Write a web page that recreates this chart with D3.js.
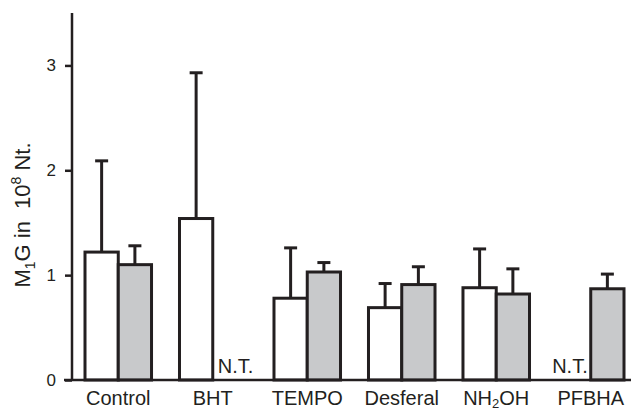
<!DOCTYPE html>
<html>
<head>
  <meta charset="utf-8">
  <title>M1G</title>
  <script src="https://d3js.org/d3.v7.min.js"></script>
  <style>
    body { margin: 0; background: #fff; }
    text { font-family: "Liberation Sans", Arial, sans-serif; fill: #231f20; }
  </style>
</head>
<body>
<svg id="chart" width="631" height="412"></svg>
<script>
// data
var categories = ["Control", "BHT", "TEMPO", "Desferal", "NH2OH", "PFBHA"];
var whiteMean = [1.22, 1.54, 0.78, 0.69, 0.88, null];
var whiteErr  = [0.87, 1.39, 0.48, 0.23, 0.37, null];
var grayMean  = [1.10, null, 1.03, 0.91, 0.82, 0.87];
var grayErr   = [0.18, null, 0.09, 0.17, 0.24, 0.14];
var yTicks = [0, 1, 2, 3];

var ink = "#231f20";
var svg = d3.select("#chart");

var x = d3.scaleBand()
  .domain(categories)
  .range([85, 624])
  .paddingInner(0.296)
  .paddingOuter(0);

var y = d3.scaleLinear().domain([0, 3.5]).range([380, 13]);

var bw = x.bandwidth() / 2;

var rows = [];
categories.forEach(function (c, i) {
  rows.push({ cat: c, slot: 0, v: whiteMean[i], e: whiteErr[i], fill: "#ffffff" });
  rows.push({ cat: c, slot: 1, v: grayMean[i], e: grayErr[i], fill: "#c8c9cb" });
});

// error bars first so the bar outline sits over the base
var withVal = rows.filter(function (d) { return d.v != null; });
var eb = svg.append("g");
withVal.forEach(function (d) {
  var cx = x(d.cat) + d.slot * bw + bw / 2;
  eb.append("line")
    .attr("x1", cx).attr("x2", cx)
    .attr("y1", y(d.v)).attr("y2", y(d.v + d.e))
    .attr("stroke", ink).attr("stroke-width", 3);
  eb.append("line")
    .attr("x1", cx - 6.5).attr("x2", cx + 6.5)
    .attr("y1", y(d.v + d.e)).attr("y2", y(d.v + d.e))
    .attr("stroke", ink).attr("stroke-width", 3);
});

svg.append("g").selectAll("rect")
  .data(withVal)
  .enter().append("rect")
  .attr("x", function (d) { return x(d.cat) + d.slot * bw; })
  .attr("y", function (d) { return y(d.v); })
  .attr("width", bw)
  .attr("height", function (d) { return y(0) - y(d.v); })
  .attr("fill", function (d) { return d.fill; })
  .attr("stroke", ink)
  .attr("stroke-width", 3);

// N.T. labels where a bar is missing
rows.filter(function (d) { return d.v == null; }).forEach(function (d) {
  var left = x(d.cat) + d.slot * bw;
  svg.append("text")
    .attr("x", d.slot === 1 ? left + 5 : left + bw - 3)
    .attr("y", 373)
    .attr("text-anchor", d.slot === 1 ? "start" : "end")
    .style("font-size", "20px")
    .text("N.T.");
});

// y axis
var yAxis = d3.axisLeft(y).tickValues(yTicks).tickFormat(d3.format("d"))
  .tickSize(7).tickPadding(9);
var ga = svg.append("g").attr("transform", "translate(72,0)").call(yAxis);
ga.select(".domain").remove();
ga.selectAll(".tick line").attr("stroke", ink).attr("stroke-width", 2.5);
ga.selectAll(".tick text").style("font-size", "17px").attr("fill", ink);
svg.append("line")
  .attr("x1", 72).attr("x2", 72).attr("y1", 13).attr("y2", y(0))
  .attr("stroke", ink).attr("stroke-width", 2.5);

// x axis
svg.append("line")
  .attr("x1", 64).attr("x2", 631).attr("y1", y(0)).attr("y2", y(0))
  .attr("stroke", ink).attr("stroke-width", 2.5);

var lab = svg.append("g").selectAll("text")
  .data(categories)
  .enter().append("text")
  .attr("x", function (d) { return x(d) + x.bandwidth() / 2; })
  .attr("y", 405)
  .attr("text-anchor", "middle")
  .style("font-size", "20px");
lab.each(function (d) {
  var t = d3.select(this);
  if (d === "NH2OH") {
    t.append("tspan").text("NH");
    t.append("tspan").attr("dy", 3).style("font-size", "13px").text("2");
    t.append("tspan").attr("dy", -3).text("OH");
  } else {
    t.text(d);
  }
});

// y label
var yl = svg.append("text")
  .attr("transform", "translate(30,215) rotate(-90)")
  .attr("text-anchor", "middle")
  .style("font-size", "22px");
yl.append("tspan").text("M");
yl.append("tspan").attr("dy", 5).style("font-size", "14px").text("1");
yl.append("tspan").attr("dy", -5).text("G in \u00a010");
yl.append("tspan").attr("dy", -9).style("font-size", "14px").text("8");
yl.append("tspan").attr("dy", 9).text(" Nt.");
</script>
</body>
</html>
